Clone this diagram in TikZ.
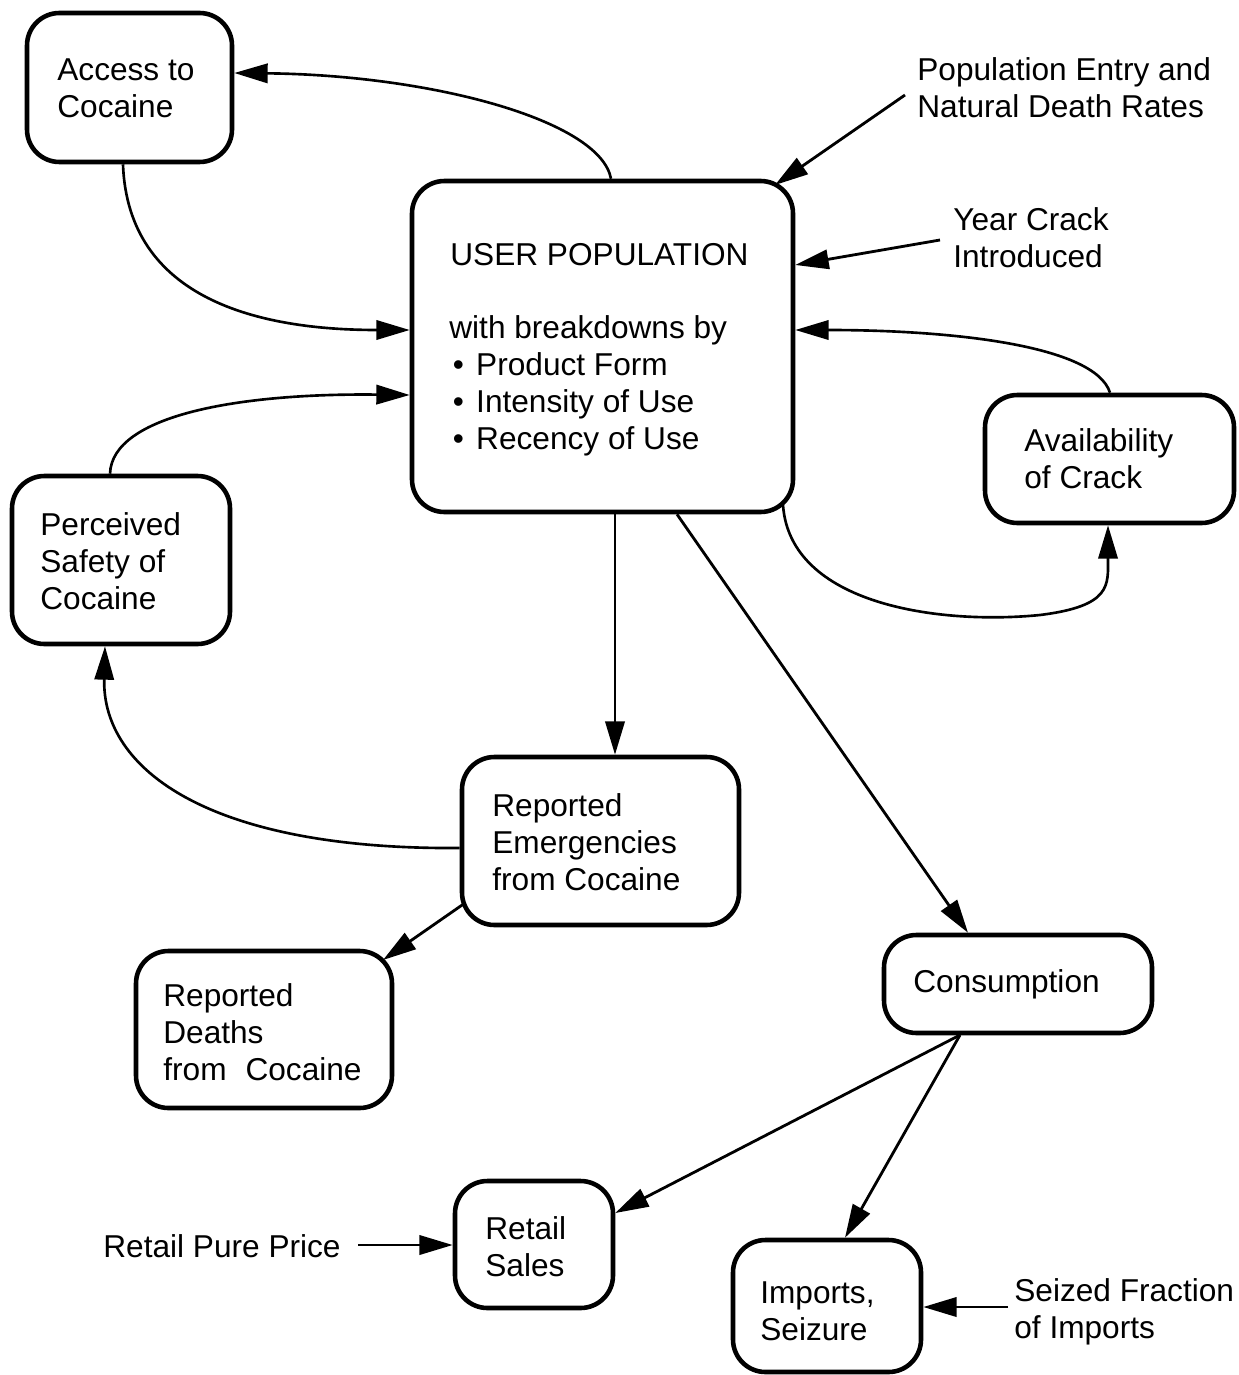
\documentclass[tikz,border=0pt]{standalone}
\usepackage{fontspec}
\setmainfont{Liberation Sans}
\usetikzlibrary{arrows.meta,fit,calc}
\begin{document}
\begin{tikzpicture}[x=0.02cm,y=-0.02cm,
  box/.style={draw, line width=2.6pt, rounded corners=0.65cm, inner sep=0pt},
  txt/.style={font=\fontsize{18}{21}\selectfont, align=left, inner sep=0pt},
  arr/.style={line width=1.6pt, -{Triangle[length=19pt,width=11pt]}},
  carr/.style={line width=1.5pt, -{Triangle[length=19pt,width=11pt]}}]
\useasboundingbox (0,0) rectangle (1238,1375);
% boxes
\node[box, fit={(27,13) (232,162)}] (acc) {};
\node[box, fit={(412,181) (793,512)}] (up) {};
\node[box, fit={(985,395) (1234,523)}] (avail) {};
\node[box, fit={(12,476) (230,644)}] (safe) {};
\node[box, fit={(462,757) (739,925)}] (emerg) {};
\node[box, fit={(136,951) (392,1108)}] (death) {};
\node[box, fit={(884,935) (1152,1033)}] (cons) {};
\node[box, fit={(455,1181) (613,1308)}] (retail) {};
\node[box, fit={(733,1240) (921,1372)}] (imp) {};
% texts
\node[txt, anchor=west] (accT) at (57,88.5) {Access to\\Cocaine};
\node[txt, anchor=west] (upT) at (450,255) {USER POPULATION};
\node[txt, anchor=west] (upL) at (449,385.5) {with breakdowns by\\
  \hspace*{2pt}\textbullet\hspace{7pt}Product Form\\
  \hspace*{2pt}\textbullet\hspace{7pt}Intensity of Use\\
  \hspace*{2pt}\textbullet\hspace{7pt}Recency of Use};
\node[txt, anchor=west] (pop) at (917,88) {Population Entry and\\Natural Death Rates};
\node[txt, anchor=west] (year) at (953,237.5) {Year Crack\\Introduced};
\node[txt, anchor=west] (availT) at (1024,458.5) {Availability\\of Crack};
\node[txt, anchor=west] (safeT) at (40,561) {Perceived\\Safety of\\Cocaine};
\node[txt, anchor=west] (emergT) at (492,842.5) {Reported\\Emergencies\\from Cocaine};
\node[txt, anchor=west] (deathT) at (163,1032.5) {Reported\\Deaths\\from\hspace{0.6em}Cocaine};
\node[txt, anchor=west] (consT) at (913,984) {Consumption};
\node[txt, anchor=west] (retailT) at (485,1246.5) {Retail\\Sales};
\node[txt, anchor=west] (impT) at (760,1311.5) {Imports,\\Seizure};
\node[txt, anchor=west] (price) at (103,1246) {Retail Pure Price};
\node[txt, anchor=west] (seized) at (1014,1311.5) {Seized Fraction\\of Imports};
% connector end coordinates
\coordinate (popS) at (905,95);
\coordinate (yearS) at (940,240);
\coordinate (priceS) at (358,1245);
\coordinate (seizedS) at (1008,1307);
% connectors
\draw[carr] (up.north -| 611,0) .. controls (600,120) and (430,75) .. (acc.east |- 0,73);
\draw[carr] (acc.south -| 123,0) .. controls (128,300) and (260,330) .. (up.west |- 0,330);
\draw[carr] (safe.north -| 110,0) .. controls (112,415) and (240,393) .. (up.west |- 0,395);
\draw[carr] (emerg.west |- 0,848) .. controls (210,850) and (102,770) .. (safe.south -| 105,0);
\draw[arr] (up.south -| 615,0) -- (emerg.north -| 615,0);
\draw[arr] (up.south -| 677,0) -- (cons.north -| 968,0);
\draw[arr] (popS) -- (775,185);
\draw[arr] (yearS) -- (up.east |- 0,265);
\draw[carr] (avail.north -| 1110,0) .. controls (1095,345) and (950,330) .. (up.east |- 0,330);
\draw[carr] (783,505) .. controls (790,605) and (940,625) .. (1040,615) .. controls (1112,606) and (1108,585) .. (avail.south -| 1108,0);
\draw[arr] (465,903) -- (383,960);
\draw[arr] (960,1035) -- (retail.east |- 0,1213);
\draw[arr] (960,1035) -- (imp.north -| 845,0);
\draw[arr] (priceS) -- (retail.west |- 0,1245);
\draw[arr] (seizedS) -- (imp.east |- 0,1307);
\end{tikzpicture}
\end{document}
